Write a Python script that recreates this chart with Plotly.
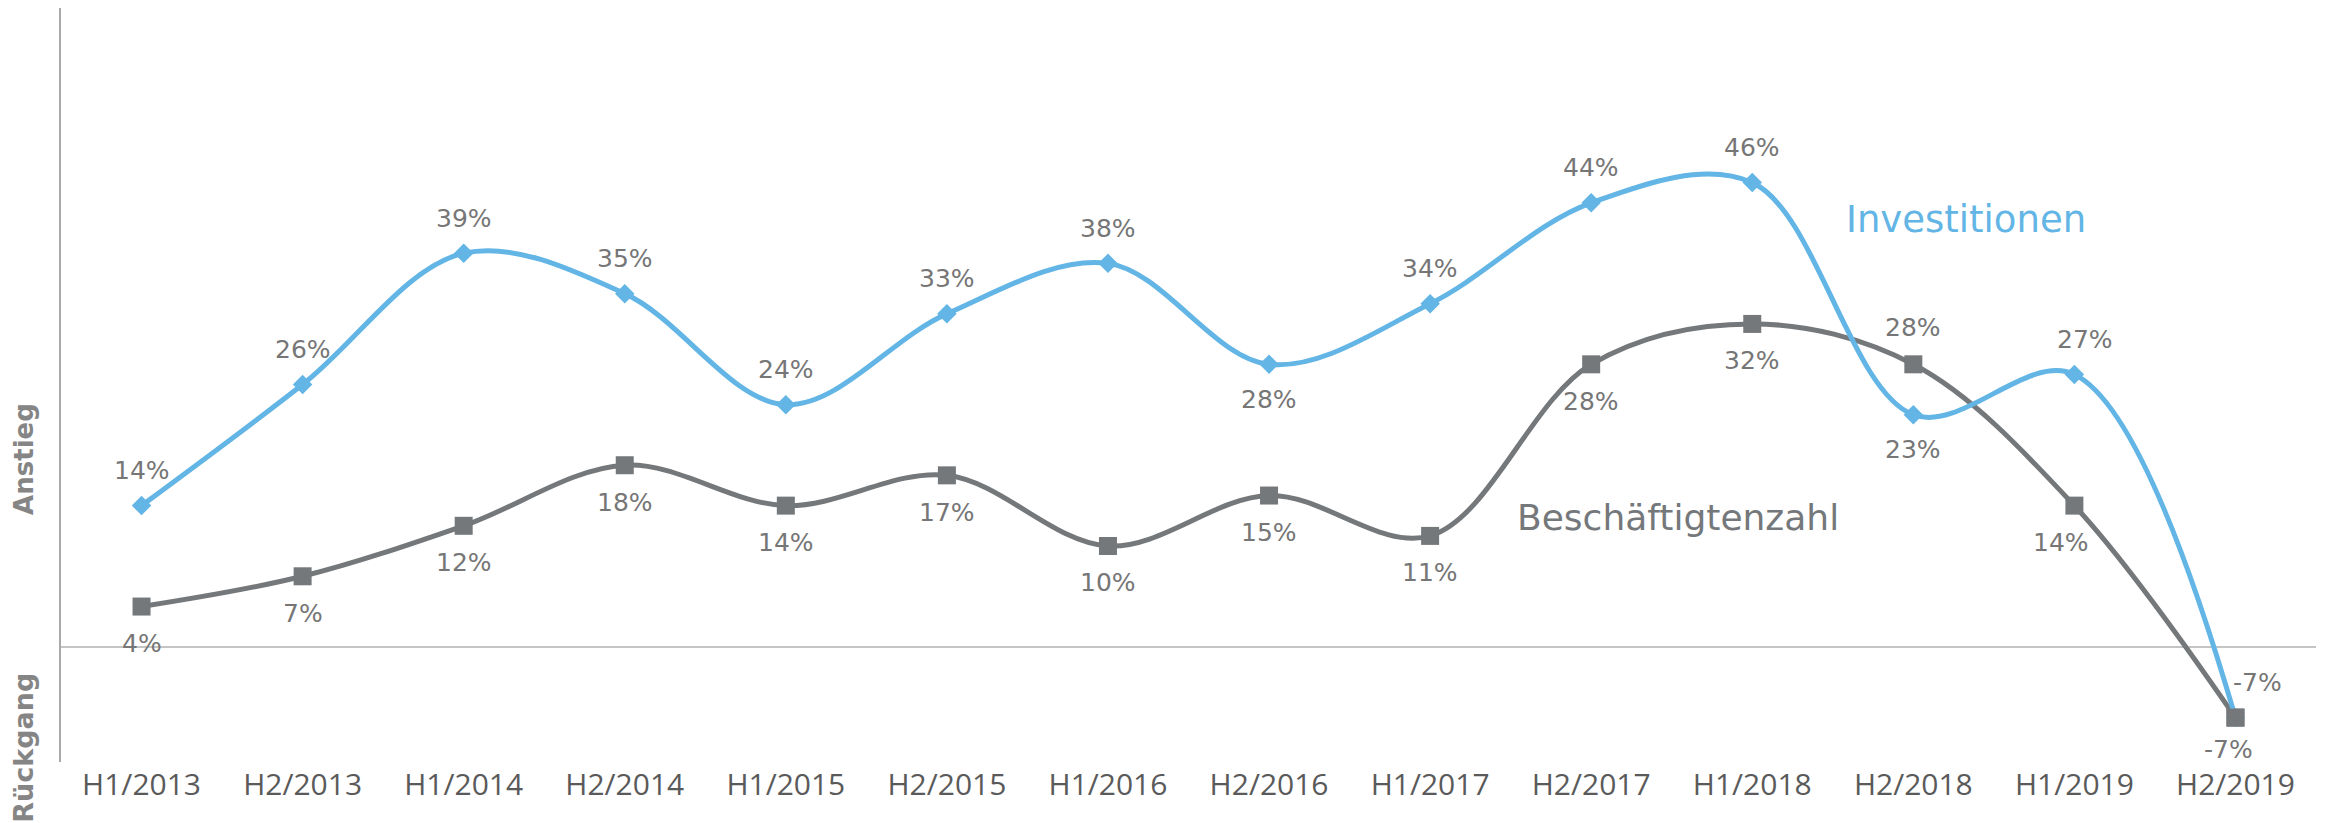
import plotly.graph_objects as go

categories = ["H1/2013", "H2/2013", "H1/2014", "H2/2014", "H1/2015", "H2/2015", "H1/2016",
              "H2/2016", "H1/2017", "H2/2017", "H1/2018", "H2/2018", "H1/2019", "H2/2019"]
investitionen = [14, 26, 39, 35, 24, 33, 38, 28, 34, 44, 46, 23, 27, -7]
beschaeftigte = [4, 7, 12, 18, 14, 17, 10, 15, 11, 28, 32, 28, 14, -7]

BLUE = "#62B5E5"
GREY = "#75787B"
LABEL_GREY = "#767676"

# label placement (style): +1 above, -1 below
inv_pos = [1, 1, 1, 1, 1, 1, 1, -1, 1, 1, 1, -1, 1, 1]
bes_pos = [-1, -1, -1, -1, -1, -1, -1, -1, -1, -1, -1, 1, -1, -1]
inv_dy = [35] * 14
bes_dy = [37] * 13 + [32]
inv_xs = [0] * 13 + [22]
inv_xs[12] = 11
bes_xs = [0] * 14
bes_xs[12] = -13
bes_xs[13] = -7

fig = go.Figure()
fig.add_trace(go.Scatter(x=categories, y=beschaeftigte, mode="lines+markers",
                         line=dict(color=GREY, width=5, shape="spline", smoothing=1.0),
                         marker=dict(symbol="square", size=18, color=GREY),
                         hoverinfo="skip"))
fig.add_trace(go.Scatter(x=categories, y=investitionen, mode="lines+markers",
                         line=dict(color=BLUE, width=5, shape="spline", smoothing=1.0),
                         marker=dict(symbol="diamond", size=15, color=BLUE),
                         hoverinfo="skip"))
fig.add_trace(go.Scatter(x=categories[-1:], y=beschaeftigte[-1:], mode="markers",
                         marker=dict(symbol="square", size=18, color=GREY),
                         hoverinfo="skip"))

annotations = []
for i, c in enumerate(categories):
    annotations.append(dict(x=c, y=investitionen[i], xref="x", yref="y",
                            text=f"{investitionen[i]:.0f}%", showarrow=False,
                            yshift=inv_dy[i] * inv_pos[i], xshift=inv_xs[i],
                            font=dict(family="DejaVu Sans", size=25, color=LABEL_GREY)))
    annotations.append(dict(x=c, y=beschaeftigte[i], xref="x", yref="y",
                            text=f"{beschaeftigte[i]:.0f}%", showarrow=False,
                            yshift=bes_dy[i] * bes_pos[i], xshift=bes_xs[i],
                            font=dict(family="DejaVu Sans", size=25, color=LABEL_GREY)))

annotations.append(dict(x=11.33, y=42.3, xref="x", yref="y", text="Investitionen",
                        showarrow=False, font=dict(family="DejaVu Sans", size=37, color=BLUE)))
annotations.append(dict(x=9.54, y=12.8, xref="x", yref="y", text="Beschäftigtenzahl",
                        showarrow=False, font=dict(family="DejaVu Sans", size=36, color=GREY)))
annotations.append(dict(x=-0.0164, y=0.402, xref="paper", yref="paper", text="<b>Anstieg</b>",
                        textangle=-90, showarrow=False, xanchor="center", yanchor="middle",
                        font=dict(family="DejaVu Sans", size=26, color="#858585")))
annotations.append(dict(x=-0.0164, y=0.019, xref="paper", yref="paper", text="<b>Rückgang</b>",
                        textangle=-90, showarrow=False, xanchor="center", yanchor="middle",
                        font=dict(family="DejaVu Sans", size=27, color="#858585")))

# the page body adds an 8px offset, so the figure is 8px smaller than the window
fig.update_layout(
    width=2318, height=815,
    margin=dict(l=53, r=10, t=0, b=61, autoexpand=False),
    paper_bgcolor="white", plot_bgcolor="white",
    showlegend=False,
    annotations=annotations,
    xaxis=dict(type="category", range=[-0.5, 13.5], showgrid=False, showline=False,
               zeroline=False, ticks="", tickfont=dict(family="Open Sans", size=30, color="#5A5A5A"),
               ticklabelstandoff=2, automargin=False),
    yaxis=dict(range=[-11.4, 63.3], showgrid=False, showticklabels=False, ticks="",
               showline=True, linecolor="#A9A9A9", linewidth=2, automargin=False,
               zeroline=True, zerolinecolor="#C4C4C4", zerolinewidth=1.5),
)

fig.write_html("out.html")
